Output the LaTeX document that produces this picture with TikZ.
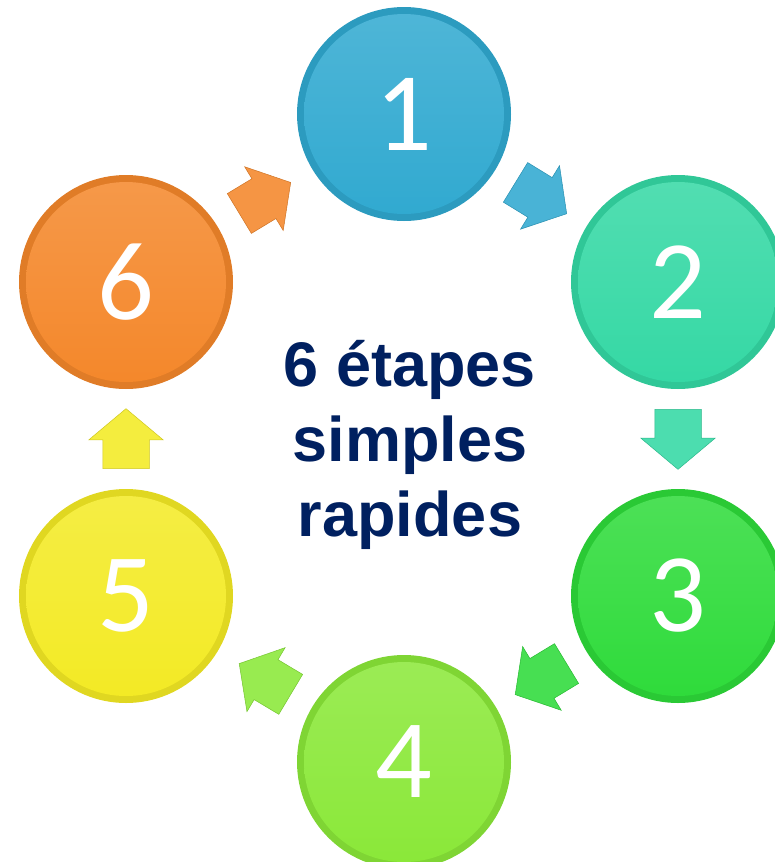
\documentclass[tikz,border=0pt]{standalone}
\usepackage{fontspec}
\usepackage{tikz}
\usetikzlibrary{shapes.arrows, positioning}

\newfontfamily\digitfont{Carlito}
\newfontfamily\titlefont{Liberation Sans}

\definecolor{navy}{HTML}{002060}
\definecolor{stepone}{HTML}{30A9D0}
\definecolor{steptwo}{HTML}{34D8A4}
\definecolor{stepthree}{HTML}{2EDB3A}
\definecolor{stepfour}{HTML}{8AE838}
\definecolor{stepfive}{HTML}{F3EA24}
\definecolor{stepsix}{HTML}{F4872A}

\tikzset{
  disc/.style={circle, minimum size=214pt, inner sep=0pt, text=white,
    font=\digitfont\fontsize{112}{112}\selectfont,
    fill=#1!92!black,
    path picture={\fill[top color=#1!85!white, bottom color=#1]
      (path picture bounding box.center) circle (100pt);}},
  blockarrow/.style={single arrow, draw=#1!85!black, fill=#1!88!white,
    minimum height=60pt, inner xsep=0pt, inner ysep=23pt,
    single arrow head extend=14pt, single arrow tip angle=100,
    line width=0.5pt, pos=0.47, sloped, allow upside down}
}

\begin{document}
\begin{tikzpicture}[x=1pt, y=-1pt]
\useasboundingbox (0,0) rectangle (774,862);

\node[disc=stepone] (c1) at (404,114) {1};
\node[disc=steptwo] (c2) at (678,282) {2};
\node[disc=stepthree] (c3) at (678,596) {3};
\node[disc=stepfour] (c4) at (404,762) {4};
\node[disc=stepfive] (c5) at (126,596) {5};
\node[disc=stepsix] (c6) at (126,282) {6};

\path (c1.center) -- node[blockarrow=stepone] (a12) {} (c2.center);
\path (c2.center) -- node[blockarrow=steptwo] (a23) {} (c3.center);
\path (c3.center) -- node[blockarrow=stepthree] (a34) {} (c4.center);
\path (c4.center) -- node[blockarrow=stepfour] (a45) {} (c5.center);
\path (c5.center) -- node[blockarrow=stepfive] (a56) {} (c6.center);
\path (c6.center) -- node[blockarrow=stepsix] (a61) {} (c1.center);

\node[text=navy, align=center, font=\titlefont\bfseries\fontsize{63}{75}\selectfont]
  (title) at (410,445) {6 étapes\\simples\\rapides};
\end{tikzpicture}
\end{document}
